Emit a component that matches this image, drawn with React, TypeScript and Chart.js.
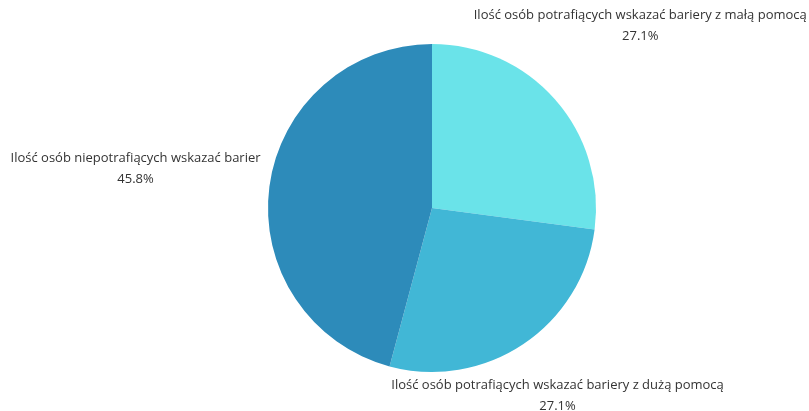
import React, { useEffect, useRef } from "react";
import { Chart, registerables } from "chart.js";

Chart.register(...registerables);

const categories = [
  "Ilość osób potrafiących wskazać bariery z małą pomocą",
  "Ilość osób potrafiących wskazać bariery z dużą pomocą",
  "Ilość osób niepotrafiących wskazać barier",
];
const values = [13, 13, 22];
const colors = ["#6ae3e9", "#41b7d6", "#2d8bba"];

const labelDistance = [277, 226, 299];

const outerLabels = {
  id: "outerLabels",
  afterDraw(chart: any) {
    const ctx = chart.ctx;
    const meta = chart.getDatasetMeta(0);
    const data = chart.data.datasets[0].data as number[];
    const total = data.reduce((a, b) => a + b, 0);
    ctx.save();
    ctx.font = "13px 'Open Sans'";
    ctx.fillStyle = "#333333";
    ctx.textAlign = "center";
    ctx.textBaseline = "middle";
    meta.data.forEach((arc: any, i: number) => {
      const { x, y, startAngle, endAngle } = arc.getProps(["x", "y", "startAngle", "endAngle"], true);
      const mid = (startAngle + endAngle) / 2;
      const d = labelDistance[i];
      const cx = x + Math.cos(mid) * d;
      const cy = y + Math.sin(mid) * d;
      const pct = ((data[i] / total) * 100).toFixed(1) + "%";
      ctx.fillText(chart.data.labels[i], cx, cy - 10.5);
      ctx.fillText(pct, cx, cy + 10.5);
    });
    ctx.restore();
  },
};

export default function App() {
  const ref = useRef<HTMLCanvasElement | null>(null);
  useEffect(() => {
    if (!ref.current) return;
    const chart = new Chart(ref.current, {
      type: "pie",
      data: {
        labels: categories,
        datasets: [
          {
            data: values,
            backgroundColor: colors,
            borderWidth: 0,
          },
        ],
      },
      options: {
        animation: false,
        responsive: false,
        maintainAspectRatio: false,
        layout: { padding: { left: 268, right: 213, top: 44, bottom: 39 } },
        plugins: {
          legend: { display: false },
          tooltip: { enabled: false },
        },
      },
      plugins: [outerLabels],
    });
    return () => chart.destroy();
  }, []);
  return (
    <div style={{ position: "absolute", left: 0, top: 0, width: 809, height: 411, background: "#fff" }}>
      <canvas ref={ref} width={809} height={411} style={{ width: 809, height: 411 }} />
    </div>
  );
}
